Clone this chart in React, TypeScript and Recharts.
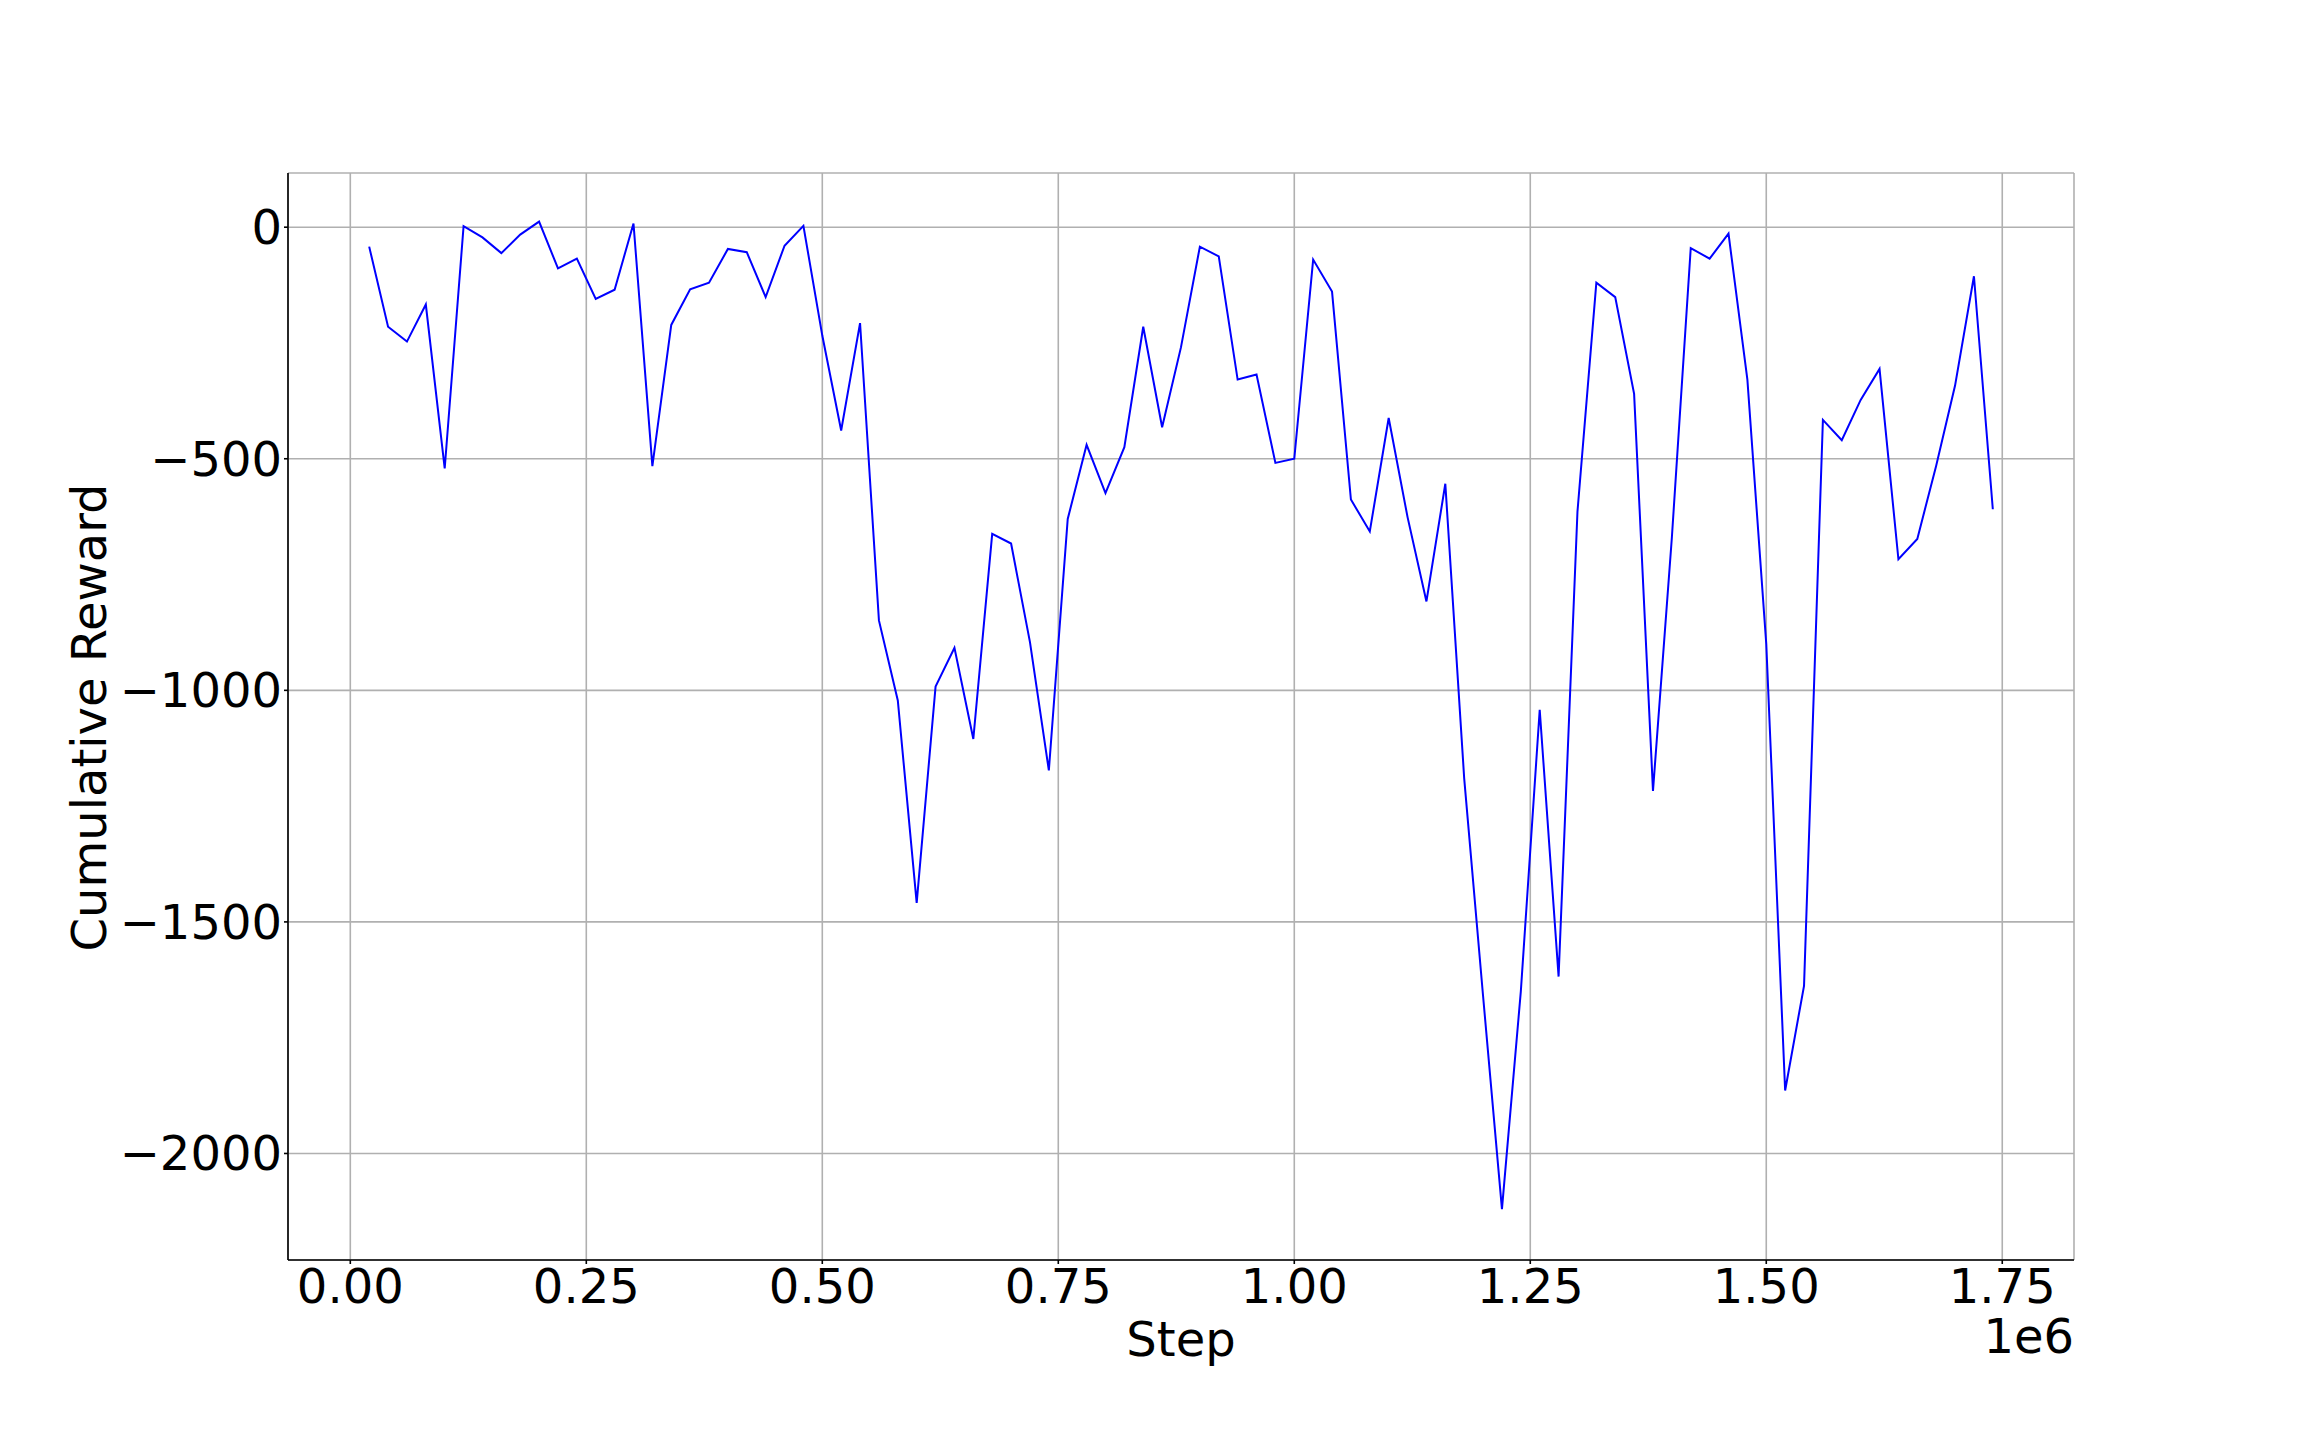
import React from "react";
import {
  CartesianGrid,
  Label,
  Line,
  LineChart,
  XAxis,
  YAxis,
} from "recharts";

const steps = [
  20000, 40000, 60000, 80000, 100000, 120000, 140000, 160000, 180000, 200000,
  220000, 240000, 260000, 280000, 300000, 320000, 340000, 360000, 380000, 400000,
  420000, 440000, 460000, 480000, 500000, 520000, 540000, 560000, 580000, 600000,
  620000, 640000, 660000, 680000, 700000, 720000, 740000, 760000, 780000, 800000,
  820000, 840000, 860000, 880000, 900000, 920000, 940000, 960000, 980000, 1000000,
  1020000, 1040000, 1060000, 1080000, 1100000, 1120000, 1140000, 1160000, 1180000, 1200000,
  1220000, 1240000, 1260000, 1280000, 1300000, 1320000, 1340000, 1360000, 1380000, 1400000,
  1420000, 1440000, 1460000, 1480000, 1500000, 1520000, 1540000, 1560000, 1580000, 1600000,
  1620000, 1640000, 1660000, 1680000, 1700000, 1720000, 1740000,
];

const rewards = [
  -42, -215, -247, -167, -521, 2, -22, -56, -16, 12,
  -89, -68, -155, -135, 8, -516, -211, -134, -120, -47,
  -54, -151, -40, 3, -234, -439, -207, -849, -1022, -1459,
  -992, -908, -1105, -662, -683, -896, -1173, -630, -470, -574,
  -475, -215, -432, -259, -42, -63, -329, -318, -509, -500,
  -70, -139, -588, -657, -412, -626, -808, -554, -1190, -1660,
  -2120, -1650, -1042, -1618, -614, -120, -151, -360, -1217, -670,
  -45, -68, -14, -329, -900, -1864, -1638, -416, -460, -373,
  -306, -717, -673, -515, -342, -106, -609,
];

const xTicks = [0, 250000, 500000, 750000, 1000000, 1250000, 1500000, 1750000];
const yTicks = [-2000, -1500, -1000, -500, 0];

const data = steps.map((step, i) => ({ step, reward: rewards[i] }));

const FONT = "'DejaVu Sans', sans-serif";
const FS = 48;

// matplotlib style: unicode minus
const fmtY = (v: number) => (v < 0 ? `\u2212${Math.abs(v)}` : `${v}`);
const fmtX = (v: number) => (v / 1e6).toFixed(2);

function XTick(props: any) {
  const { x, y, payload } = props;
  return (
    <text x={x} y={y} dy={34} textAnchor="middle" fontSize={FS} fontFamily={FONT} fill="#000">
      {fmtX(payload.value)}
    </text>
  );
}

function YTick(props: any) {
  const { x, y, payload } = props;
  return (
    <text x={x} y={y} dy={17} textAnchor="end" fontSize={FS} fontFamily={FONT} fill="#000">
      {fmtY(payload.value)}
    </text>
  );
}

function XLabel(props: any) {
  const vb = props.viewBox;
  return (
    <g>
      <text x={vb.x + vb.width / 2} y={vb.y + 96} textAnchor="middle" fontSize={FS} fontFamily={FONT} fill="#000">
        Step
      </text>
      <text x={vb.x + vb.width} y={vb.y + 93} textAnchor="end" fontSize={FS} fontFamily={FONT} fill="#000">
        1e6
      </text>
    </g>
  );
}

function YLabel(props: any) {
  const vb = props.viewBox;
  const cx = 106;
  const cy = vb.y + vb.height / 2 + 1;
  return (
    <text
      x={cx}
      y={cy}
      transform={`rotate(-90, ${cx}, ${cy})`}
      textAnchor="middle"
      fontSize={FS}
      fontFamily={FONT}
      fill="#000"
    >
      Cumulative Reward
    </text>
  );
}

const spine = { stroke: "#000", strokeWidth: 1.6 };

export default function App() {
  return (
    <div style={{ position: "fixed", left: 0, top: 0, width: 2304, height: 1440, background: "#fff" }}>
      <LineChart
        width={2304}
        height={1440}
        data={data}
        margin={{ top: 173, right: 230, bottom: 0, left: 0 }}
      >
        <CartesianGrid stroke="#b0b0b0" strokeWidth={1.6} />
        <XAxis
          dataKey="step"
          type="number"
          domain={[-66000, 1826000]}
          ticks={xTicks}
          allowDataOverflow
          height={180}
          tickSize={4}
          tickMargin={5}
          tick={<XTick />}
          axisLine={spine}
          tickLine={spine}
          interval={0}
        >
          <Label content={<XLabel />} />
        </XAxis>
        <XAxis
          xAxisId="top"
          orientation="top"
          dataKey="step"
          type="number"
          domain={[-66000, 1826000]}
          height={0}
          tick={false}
          tickLine={false}
          axisLine={spine}
        />
        <YAxis
          type="number"
          domain={[-2230, 117]}
          ticks={yTicks}
          allowDataOverflow
          width={288}
          tickSize={4}
          tickMargin={2}
          tick={<YTick />}
          axisLine={spine}
          tickLine={spine}
          interval={0}
        >
          <Label content={<YLabel />} />
        </YAxis>
        <YAxis
          yAxisId="right"
          orientation="right"
          type="number"
          domain={[-2230, 117]}
          width={0}
          tick={false}
          tickLine={false}
          axisLine={spine}
        />
        <Line
          type="linear"
          dataKey="reward"
          stroke="#0000ff"
          strokeWidth={2}
          dot={false}
          activeDot={false}
          isAnimationActive={false}
        />
      </LineChart>
    </div>
  );
}
